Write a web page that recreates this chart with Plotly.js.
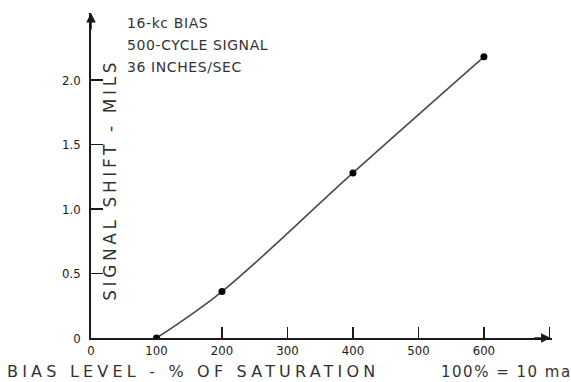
<!DOCTYPE html>
<html>
<head>
<meta charset="utf-8">
<script src="https://cdn.plot.ly/plotly-3.0.1.min.js"></script>
<style>
html,body{margin:0;padding:0;background:#fff;}
#chart{width:571px;height:382px;}
</style>
</head>
<body>
<div id="chart"></div>
<script>
// Data
const biasLevel = [100, 200, 400, 600];          // % of saturation
const signalShift = [0, 0.36, 1.28, 2.18];        // mils
const xTickVals = [0, 100, 200, 300, 400, 500, 600];
const xTickText = ['0', '100', '200', '300', '400', '500', '600'];
const xTickMarks = [200, 300, 400, 500, 600, 700];
const yTickVals = [0, 0.5, 1, 1.5, 2];
const yTickText = ['0', '0.5', '1.0', '1.5', '2.0'];
const noteLines = ['16-kc BIAS', '500-CYCLE SIGNAL', '36 INCHES/SEC'];
const xTitle = 'BIAS LEVEL - % OF SATURATION';
const xNote = '100% = 10 ma';
const yTitle = 'SIGNAL SHIFT - MILS';

const ink = '#1a1a1a';
const letterFont = 'DejaVu Sans, sans-serif';
const tickFont = {family: 'Liberation Sans Narrow, DejaVu Sans Condensed, sans-serif', size: 13, color: ink};

function spaced(t, px) { return '<span style="letter-spacing:' + px + 'px">' + t + '</span>'; }

const trace = {
  x: biasLevel, y: signalShift,
  type: 'scatter', mode: 'lines+markers',
  line: {color: '#4a4a4a', width: 1.6, shape: 'spline', smoothing: 1},
  marker: {color: '#000', size: 7},
  hoverinfo: 'x+y', showlegend: false
};
// empty trace so the tick-mark axis (x2) is drawn
const tickHolder = {x: [], y: [], xaxis: 'x2', yaxis: 'y', type: 'scatter', mode: 'lines',
  showlegend: false, hoverinfo: 'skip'};

const xMax = 704;

const annotations = [];
const noteY = [0.969, 0.9015, 0.834];
noteLines.forEach((t, i) => annotations.push({
  xref: 'paper', yref: 'paper', x: 0.074, y: noteY[i], xanchor: 'left', yanchor: 'middle',
  text: spaced(t, 0.6), showarrow: false, font: {family: letterFont, size: 14, color: '#333'}
}));
annotations.push({
  xref: 'paper', yref: 'paper', x: 0.0414, y: 0.487, xanchor: 'center', yanchor: 'middle',
  text: spaced(yTitle, 3.6), textangle: -90, showarrow: false,
  font: {family: letterFont, size: 17, color: '#333'}
});
annotations.push({
  xref: 'paper', yref: 'paper', x: -0.187, y: -0.104, xanchor: 'left', yanchor: 'middle',
  text: spaced(xTitle, 4.2), showarrow: false, font: {family: letterFont, size: 16, color: '#333'}
});
annotations.push({
  xref: 'paper', yref: 'paper', x: 0.754, y: -0.104, xanchor: 'left', yanchor: 'middle',
  text: spaced(xNote, 1.5), showarrow: false, font: {family: letterFont, size: 15, color: '#333'}
});
// axis arrowheads
annotations.push({xref: 'x', yref: 'y', x: xMax - 2, y: 0, ax: -18, ay: 0, text: '', showarrow: true,
  arrowhead: 2, arrowsize: 1.2, arrowwidth: 1.6, arrowcolor: ink});
annotations.push({xref: 'x', yref: 'y', x: 0, y: 2.52, ax: 0, ay: 18, text: '', showarrow: true,
  arrowhead: 2, arrowsize: 1.2, arrowwidth: 1.6, arrowcolor: ink});

const layout = {
  width: 571, height: 382,
  margin: {l: 91, r: 19, t: 13, b: 44},
  paper_bgcolor: '#fff', plot_bgcolor: '#fff',
  showlegend: false,
  xaxis: {
    range: [0, xMax], showgrid: false, zeroline: false,
    showline: true, linecolor: ink, linewidth: 1.8,
    tickvals: xTickVals, ticktext: xTickText, ticks: '',
    tickfont: tickFont, fixedrange: true
  },
  xaxis2: {
    overlaying: 'x', anchor: 'y', side: 'bottom',
    range: [0, xMax], showgrid: false, zeroline: false, showline: false,
    tickvals: xTickMarks, ticks: 'inside', ticklen: 11, tickwidth: 1.2, tickcolor: ink,
    showticklabels: false, fixedrange: true
  },
  yaxis: {
    range: [0, 2.52], showgrid: false, zeroline: false,
    showline: true, linecolor: ink, linewidth: 1.8,
    tickvals: yTickVals, ticktext: yTickText,
    ticks: 'inside', ticklen: 12, tickwidth: 1.2, tickcolor: ink,
    ticklabelstandoff: 6,
    tickfont: tickFont, fixedrange: true
  },
  annotations: annotations
};

Plotly.newPlot('chart', [trace, tickHolder], layout, {displayModeBar: false, staticPlot: true});
</script>
</body>
</html>
